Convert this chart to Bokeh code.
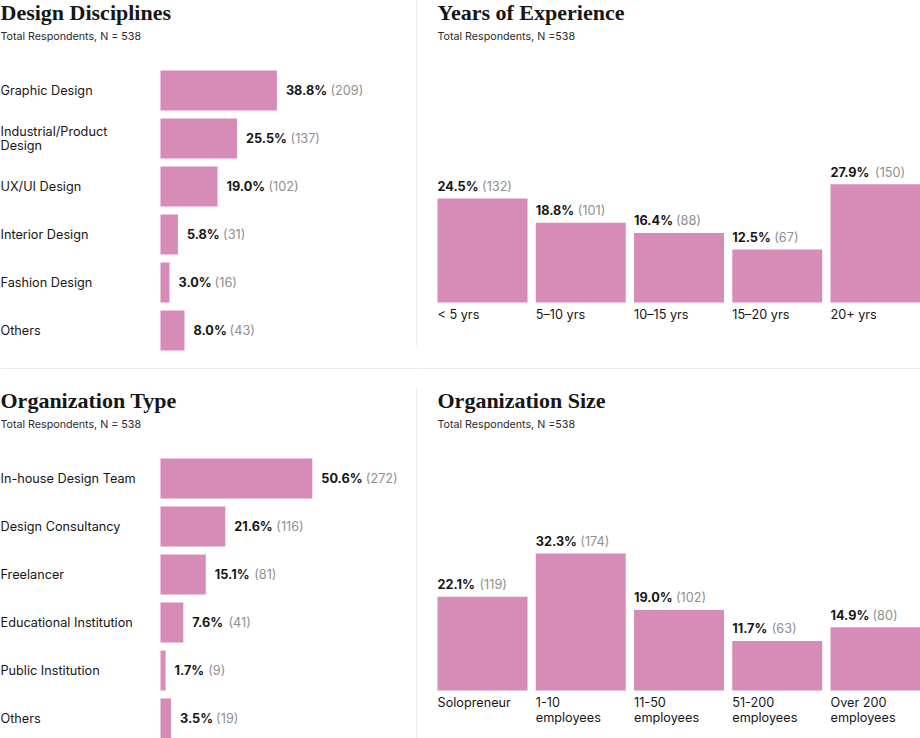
from bokeh.plotting import figure
from bokeh.layouts import gridplot
from bokeh.models import ColumnDataSource, Range1d
from bokeh.core.properties import value
from bokeh.embed import file_html
from bokeh.resources import INLINE

# survey results
disc_labels = ["Graphic Design", "Industrial/Product\nDesign", "UX/UI Design",
               "Interior Design", "Fashion Design", "Others"]
disc_pct = [38.8, 25.5, 19.0, 5.8, 3.0, 8.0]
disc_n = [209, 137, 102, 31, 16, 43]

exp_labels = ["< 5 yrs", "5\u201310 yrs", "10\u201315 yrs", "15\u201320 yrs", "20+ yrs"]
exp_pct = [24.5, 18.8, 16.4, 12.5, 27.9]
exp_n = [132, 101, 88, 67, 150]

org_labels = ["In-house Design Team", "Design Consultancy", "Freelancer",
              "Educational Institution", "Public Institution", "Others"]
org_pct = [50.6, 21.6, 15.1, 7.6, 1.7, 3.5]
org_n = [272, 116, 81, 41, 9, 19]

size_labels = ["Solopreneur", "1-10\nemployees", "11-50\nemployees",
               "51-200\nemployees", "Over 200\nemployees"]
size_pct = [22.1, 32.3, 19.0, 11.7, 14.9]
size_n = [119, 174, 102, 63, 80]

PINK = "#d78cb8"
INK = "#161616"
GREY = "#8e8e8e"
RULE = "#d6d6d6"
SANS = value("Inter")
SERIF = value("Liberation Serif")
FONT = "12.7px"

LEFT_W, RIGHT_W, ROW_H = 417, 503, 369


def pct_width(s):
    # rough width of the bold percent text, so the count can follow it
    return sum({".": 0.29, "%": 0.88, "1": 0.46}.get(c, 0.66) for c in s) * 12.7


def blank(w, h, xr, yr):
    p = figure(width=w, height=h, x_range=xr, y_range=yr,
               output_backend="svg", toolbar_location=None,
               x_axis_location=None, y_axis_location=None, min_border=0)
    p.grid.visible = False
    p.outline_line_color = None
    return p


def headings(p, x, y_title, y_sub, title, sub):
    p.text(x=[x], y=[y_title], text=[title], text_font=SERIF, text_font_style="bold",
           text_font_size="22px", text_color=INK, text_baseline="alphabetic")
    p.text(x=[x], y=[y_sub], text=[sub], text_font=SANS, text_font_size="10.7px",
           text_color="#2a2a2a", text_baseline="alphabetic")


def hbar_panel(title, sub, labels, pct, cnt, top):
    # bars start 160px in, 3px per percent, rows 48px apart
    fx = lambda rx: (rx - 160) / 3.0
    fy = lambda ry: (ry - top - 90) / 48.0
    p = blank(LEFT_W, ROW_H, Range1d(fx(0), fx(LEFT_W)), Range1d(fy(ROW_H), fy(0)))
    txt = ["%.1f%%" % v for v in pct]
    src = ColumnDataSource(dict(
        y=list(range(len(pct))), pct=pct, label=labels, txt=txt,
        n=["(%d)" % c for c in cnt],
        dx=[9 + pct_width(t) + 4.5 for t in txt]))
    p.hbar(y="y", left=0, right="pct", height=40 / 48, source=src,
           fill_color=PINK, line_color=None)
    p.text(x=fx(0), y="y", text="label", source=src, text_font=SANS,
           text_font_size=FONT, text_color=INK, text_baseline="middle",
           text_line_height=0.94)
    p.text(x="pct", y="y", text="txt", source=src, x_offset=9, text_font=SANS,
           text_font_style="bold", text_font_size=FONT, text_color=INK,
           text_baseline="middle")
    p.text(x="pct", y="y", text="n", source=src, x_offset="dx", text_font=SANS,
           text_font_size=FONT, text_color=GREY, text_baseline="middle")
    headings(p, fx(0), fy(11.5 + top), fy(35.5 + top), title, sub)
    return p, fx, fy


def vbar_panel(title, sub, labels, pct, cnt, top):
    # bars 90px wide every 98.25px, 4.24px per percent, base 302px below the top
    fx = lambda rx: (rx - 65) / 98.25
    fy = lambda ry: (top + 302 - ry) / 4.24
    p = blank(RIGHT_W, ROW_H, Range1d(fx(0), fx(RIGHT_W)), Range1d(fy(ROW_H), fy(0)))
    bw = 90 / 98.25
    xs = list(range(len(pct)))
    txt = ["%.1f%%" % v for v in pct]
    src = ColumnDataSource(dict(
        x=xs, left=[i - bw / 2 for i in xs], pct=pct, label=labels, txt=txt,
        n=["(%d)" % c for c in cnt],
        dx=[pct_width(t) + 4.5 for t in txt]))
    p.vbar(x="x", width=bw, bottom=0, top="pct", source=src,
           fill_color=PINK, line_color=None)
    p.text(x="left", y="pct", text="txt", source=src, y_offset=-12, text_font=SANS,
           text_font_style="bold", text_font_size=FONT, text_color=INK,
           text_baseline="alphabetic")
    p.text(x="left", y="pct", text="n", source=src, x_offset="dx", y_offset=-12,
           text_font=SANS, text_font_size=FONT, text_color=GREY,
           text_baseline="alphabetic")
    p.text(x="left", y=0, text="label", source=src, y_offset=4, text_font=SANS,
           text_font_size=FONT, text_color=INK, text_baseline="top",
           text_line_height=1.0)
    headings(p, fx(20), fy(11.5 + top), fy(35.5 + top), title, sub)
    return p, fx, fy


tl, fx, fy = hbar_panel("Design Disciplines", "Total Respondents, N = 538",
                        disc_labels, disc_pct, disc_n, 0)
tl.segment(x0=[fx(416.5)], y0=[fy(0)], x1=[fx(416.5)], y1=[fy(345)], line_color=RULE)
tl.segment(x0=[fx(0)], y0=[fy(368.5)], x1=[fx(LEFT_W)], y1=[fy(368.5)], line_color=RULE)

tr, fx, fy = vbar_panel("Years of Experience", "Total Respondents, N =538",
                        exp_labels, exp_pct, exp_n, 0)
tr.segment(x0=[fx(0)], y0=[fy(368.5)], x1=[fx(RIGHT_W)], y1=[fy(368.5)], line_color=RULE)

bl, fx, fy = hbar_panel("Organization Type", "Total Respondents, N = 538",
                        org_labels, org_pct, org_n, 19)
bl.segment(x0=[fx(416.5)], y0=[fy(19)], x1=[fx(416.5)], y1=[fy(ROW_H)], line_color=RULE)

br, fx, fy = vbar_panel("Organization Size", "Total Respondents, N =538",
                        size_labels, size_pct, size_n, 19)

p = gridplot([[tl, tr], [bl, br]], toolbar_location=None)

open("out.html", "w").write(file_html(p, INLINE))
